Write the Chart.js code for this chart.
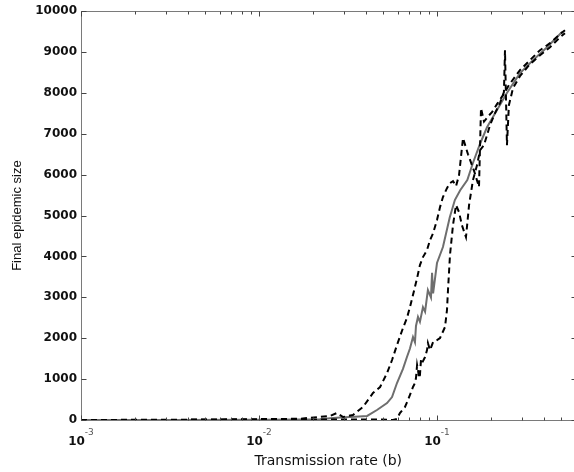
<!DOCTYPE html>
<html><head><meta charset="utf-8">
<script src="https://cdn.jsdelivr.net/npm/chart.js@4/dist/chart.umd.min.js"></script>
<style>html,body{margin:0;padding:0;background:#fff;overflow:hidden;width:574px;height:472px}canvas{display:block}</style>
</head><body>
<canvas id="c" width="580" height="472" style="width:580px;height:472px"></canvas>
<script>
const meanX = [0.001,0.00316,0.01,0.017,0.022,0.0251,0.0285,0.0346,0.0405,0.046,0.0524,0.0559,0.0596,0.0644,0.0678,0.0705,0.0733,0.0752,0.0762,0.0782,0.0802,0.0834,0.0857,0.0889,0.0925,0.0938,0.0951,0.1,0.108,0.118,0.126,0.135,0.148,0.159,0.175,0.191,0.217,0.247,0.292,0.346,0.415,0.504];
const meanY = [0,0,5,10,20,40,60,80,100,245,415,560,905,1250,1540,1750,2030,1900,2300,2520,2400,2760,2650,3180,3000,3600,3100,3840,4230,4960,5380,5620,5870,6280,6770,7160,7580,8000,8480,8800,9120,9490];

const upperX = [0.001,0.00466,0.017,0.0251,0.0274,0.0297,0.0337,0.0384,0.0437,0.0479,0.0524,0.0559,0.0596,0.0644,0.0678,0.0705,0.0733,0.0773,0.0802,0.0834,0.0879,0.0914,0.0951,0.1,0.104,0.108,0.1138,0.1183,0.123,0.1279,0.133,0.14,0.1493,0.1614,0.1722,0.1767,0.1837,0.1959,0.2037,0.2173,0.235,0.2535,0.2924,0.3327,0.3793,0.4315,0.4909,0.5236];
const upperY = [0,10,30,100,171,73,122,318,660,807,1149,1467,1834,2250,2494,2763,3056,3472,3790,3985,4157,4401,4572,4890,5208,5453,5672,5795,5844,5721,5990,6895,6500,6100,5700,7628,7300,7450,7531,7726,7946,8191,8558,8802,9047,9218,9438,9536];

const lowerX = [0.001,0.01,0.0251,0.0479,0.0566,0.0596,0.0619,0.0661,0.0687,0.0733,0.0752,0.0762,0.0773,0.0782,0.0793,0.0802,0.0813,0.0824,0.0857,0.0879,0.0889,0.0914,0.0951,0.1,0.104,0.1109,0.1138,0.1153,0.1183,0.123,0.1279,0.133,0.138,0.1455,0.1514,0.1592,0.1679,0.1746,0.1837,0.1986,0.2118,0.2259,0.2377,0.241,0.2472,0.2535,0.2673,0.2924,0.3327,0.3793,0.4315,0.4909,0.5236];
const lowerY = [0,5,10,15,0,24,171,318,489,807,905,1027,1345,1223,1027,1100,1467,1394,1540,1712,1883,1712,1907,1956,2005,2274,2690,3179,4034,4768,5257,5086,4768,4474,5257,5868,6235,6602,6724,7213,7506,7751,8020,9047,6724,7702,8117,8411,8704,8924,9120,9364,9462];

const xTickValues = [0.001, 0.01, 0.1];
const yTickValues = [0,1000,2000,3000,4000,5000,6000,7000,8000,9000,10000];
const xTitle = 'Transmission rate (b)';
const yTitle = 'Final epidemic size';

function pts(xs, ys){ return xs.map((v,i)=>({x:v,y:ys[i]})); }

const framePlugin = {
  id:'frame',
  afterDatasetsDraw(chart){
    const {ctx, chartArea:a, scales:{x,y}} = chart;
    ctx.save();
    const line=(x1,y1,x2,y2)=>{ctx.beginPath();ctx.moveTo(x1,y1);ctx.lineTo(x2,y2);ctx.stroke();};
    ctx.strokeStyle='#7a7a7a'; ctx.lineWidth=1;
    const L=Math.round(a.left)+0.5, R=Math.round(a.right)+0.5, T=Math.round(a.top)+0.5, B=Math.round(a.bottom)+0.5;
    ctx.strokeRect(L,T,R-L,B-T);
    ctx.strokeStyle='#444';
    const lo=Math.floor(Math.log10(x.min)), hi=Math.ceil(Math.log10(x.max));
    for(let d=lo; d<=hi; d++){
      for(let m=1;m<=9;m++){
        const v=m*Math.pow(10,d);
        if(v<x.min*0.999||v>x.max*1.001) continue;
        const px=Math.round(x.getPixelForValue(v))+0.5;
        const len=m===1?5:3;
        line(px,B,px,B-len); line(px,T,px,T+len);
      }
    }
    yTickValues.forEach(v=>{
      const py=Math.round(y.getPixelForValue(v))+0.5;
      line(L,py,L+5,py); line(R,py,R-5,py);
    });
    ctx.textBaseline='alphabetic';
    xTickValues.forEach(v=>{
      const px=x.getPixelForValue(v);
      const base='10', exp=String(Math.round(Math.log10(v)));
      ctx.font='bold 12px "DejaVu Sans"';
      const wb=ctx.measureText(base).width;
      ctx.font='9px "DejaVu Sans"';
      const we=ctx.measureText(exp).width;
      const sx=px-(wb+we)/2;
      ctx.fillStyle='#111';
      ctx.font='bold 12px "DejaVu Sans"';
      ctx.fillText(base,sx,445);
      ctx.fillStyle='#555';
      ctx.font='9px "DejaVu Sans"';
      ctx.fillText(exp,sx+wb,435);
    });
    ctx.restore();
  }
};

new Chart(document.getElementById('c'),{
  type:'line',
  data:{datasets:[
    {label:'Upper',data:pts(upperX,upperY),borderColor:'#000',borderWidth:2,borderDash:[6,4],pointRadius:0,fill:false,tension:0},
    {label:'Lower',data:pts(lowerX,lowerY),borderColor:'#000',borderWidth:2,borderDash:[6,4],pointRadius:0,fill:false,tension:0},
    {label:'Mean',data:pts(meanX,meanY),borderColor:'#6e6e6e',borderWidth:2,pointRadius:0,fill:false,tension:0}
  ]},
  options:{
    responsive:false, animation:false, devicePixelRatio:1,
    layout:{padding:{top:11,right:4.5,left:0,bottom:0}},
    plugins:{legend:{display:false},tooltip:{enabled:false}},
    scales:{
      x:{type:'logarithmic',min:0.001,max:0.6,
        grid:{display:false,drawTicks:false},border:{display:false},
        ticks:{display:false},
        title:{display:true,text:xTitle,font:{family:'DejaVu Sans',size:14},color:'#111',padding:{top:0,bottom:2.6}},
        afterFit(s){s.height=52;}},
      y:{min:0,max:10000,
        afterBuildTicks(s){s.ticks=yTickValues.map(v=>({value:v}));},
        grid:{display:false,drawTicks:false},border:{display:false},
        ticks:{font:{family:'DejaVu Sans',size:12,weight:'bold'},color:'#111',padding:4,callback:(v)=>String(v)},
        title:{display:true,text:yTitle,font:{family:'Liberation Sans',size:13},color:'#111',padding:{top:10,bottom:0}},
        afterFit(s){s.width=81;}}
    }
  },
  plugins:[framePlugin]
});
</script>
</body></html>
